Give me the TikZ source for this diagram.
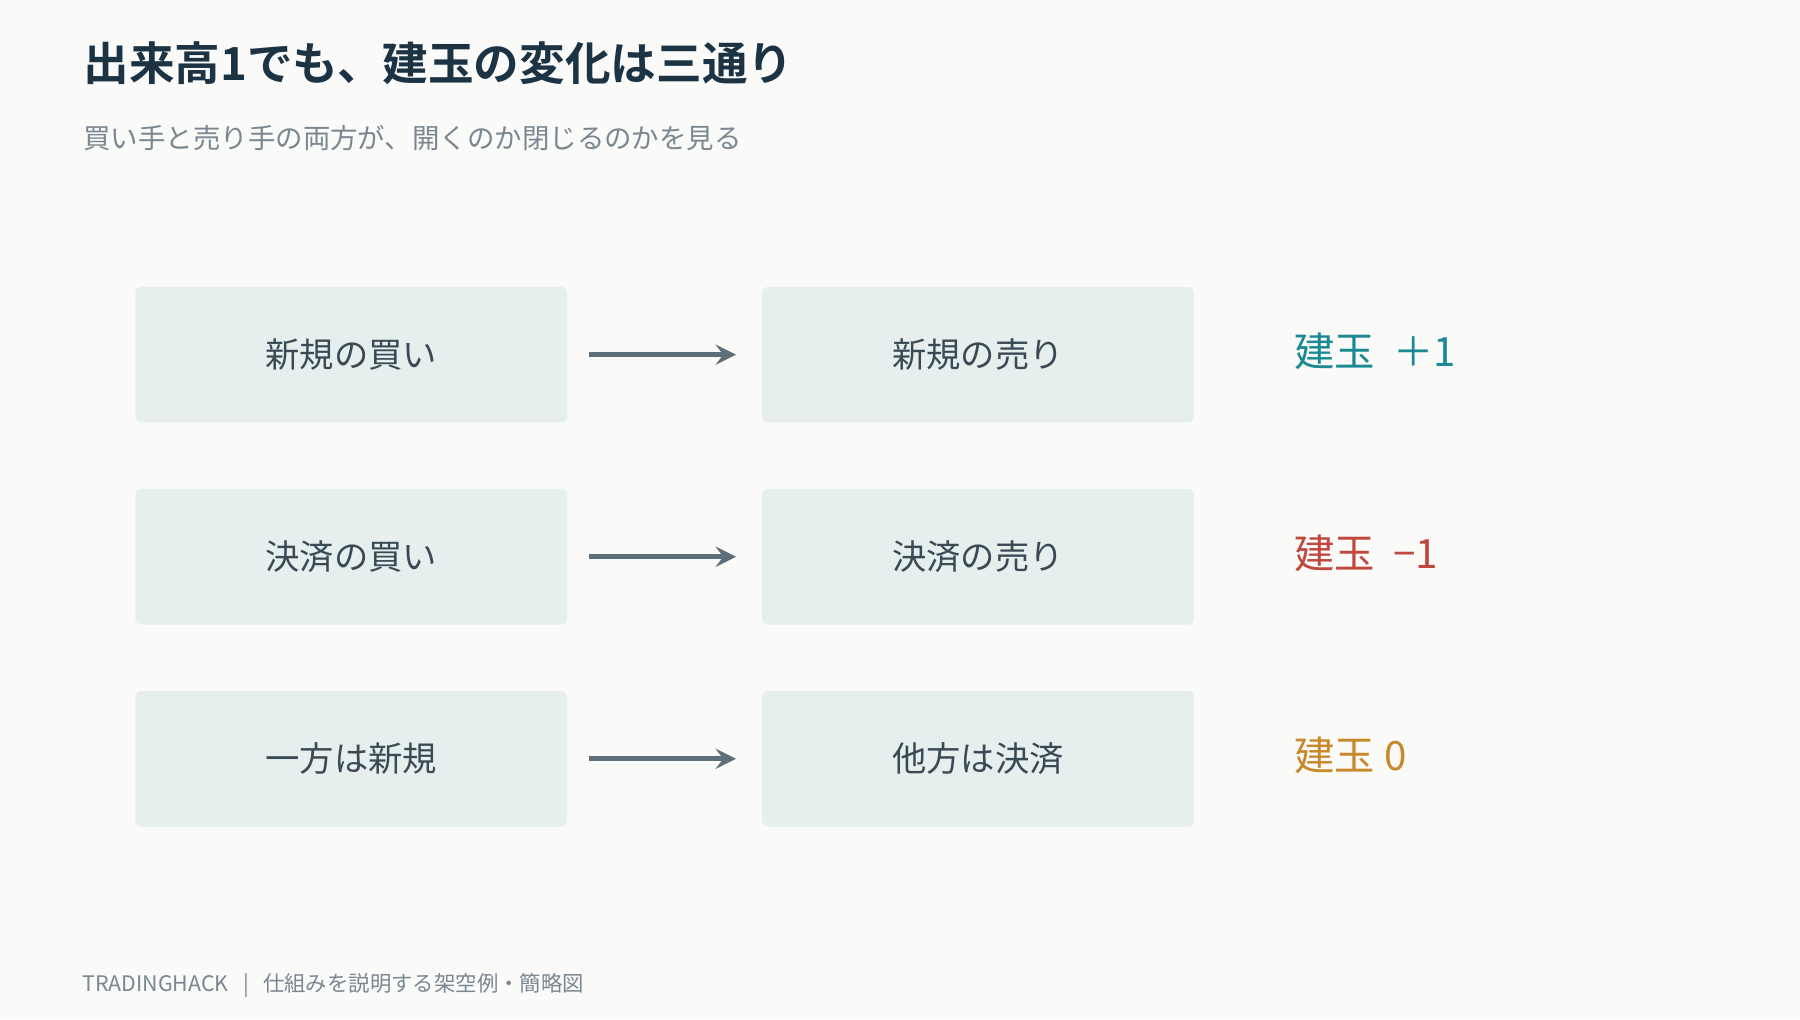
\documentclass[tikz,border=0pt]{standalone}
\usepackage{fontspec}
\setmainfont{Noto Sans CJK JP}[BoldFont={Noto Sans CJK JP Bold}]
\usetikzlibrary{positioning}
\definecolor{bgc}{HTML}{FAFAF9}
\definecolor{boxc}{HTML}{E6EFEE}
\definecolor{txtc}{HTML}{3A4A55}
\definecolor{arrc}{HTML}{5F6F7A}
\definecolor{titc}{HTML}{1C3344}
\definecolor{subc}{HTML}{7A8690}
\definecolor{plusc}{HTML}{1A8A92}
\definecolor{minusc}{HTML}{C0483E}
\definecolor{zeroc}{HTML}{C8892A}
\tikzset{%
	stepbox/.style = {fill=boxc, rounded corners=1.5pt, minimum width=3.76cm, minimum height=1.18cm, text=txtc, font=\fontsize{8.5}{10}\selectfont},
	flow/.style    = {draw=arrc, line width=1.2pt, -stealth},
	result/.style  = {anchor=west, inner sep=0pt, font=\fontsize{10}{12}\selectfont},
}
\begin{document}
\begin{tikzpicture}[x=0.01cm,y=-0.01cm]
		\fill[bgc] (0,0) rectangle (1568,888);
		% title
		\node[anchor=west, inner sep=0pt, text=titc, font=\fontsize{11.3}{14}\selectfont\bfseries] (title) at (72,55) {出来高1でも、建玉の変化は三通り};
		\node[anchor=west, inner sep=0pt, text=subc, font=\fontsize{6.8}{8}\selectfont] (sub) at (72,120) {買い手と売り手の両方が、開くのか閉じるのかを見る};
		
		% rows
		\node[stepbox] (buyA) at (306,309) {新規の買い};
		\node[stepbox] (sellA) at (852,309) {新規の売り};
		\node[result, text=plusc] (resA) at (1127,306) {建玉\ \ ＋1};
		
		\node[stepbox] (buyB) at (306,485) {決済の買い};
		\node[stepbox] (sellB) at (852,485) {決済の売り};
		\node[result, text=minusc] (resB) at (1127,482) {建玉\ \ −1};
		
		\node[stepbox] (buyC) at (306,661) {一方は新規};
		\node[stepbox] (sellC) at (852,661) {他方は決済};
		\node[result, text=zeroc] (resC) at (1127,658) {建玉 0};
		
		\foreach \r in {A,B,C} \draw[flow] ([xshift=0.18cm]buy\r.east) -- ([xshift=-0.22cm]sell\r.west);
		
		% footer
		\node[anchor=west, inner sep=0pt, text=subc, font=\fontsize{5.3}{6}\selectfont] (foot) at (71,858) {TRADINGHACK\ \ \ |\ \ \ 仕組みを説明する架空例・簡略図};
\end{tikzpicture}
\end{document}
